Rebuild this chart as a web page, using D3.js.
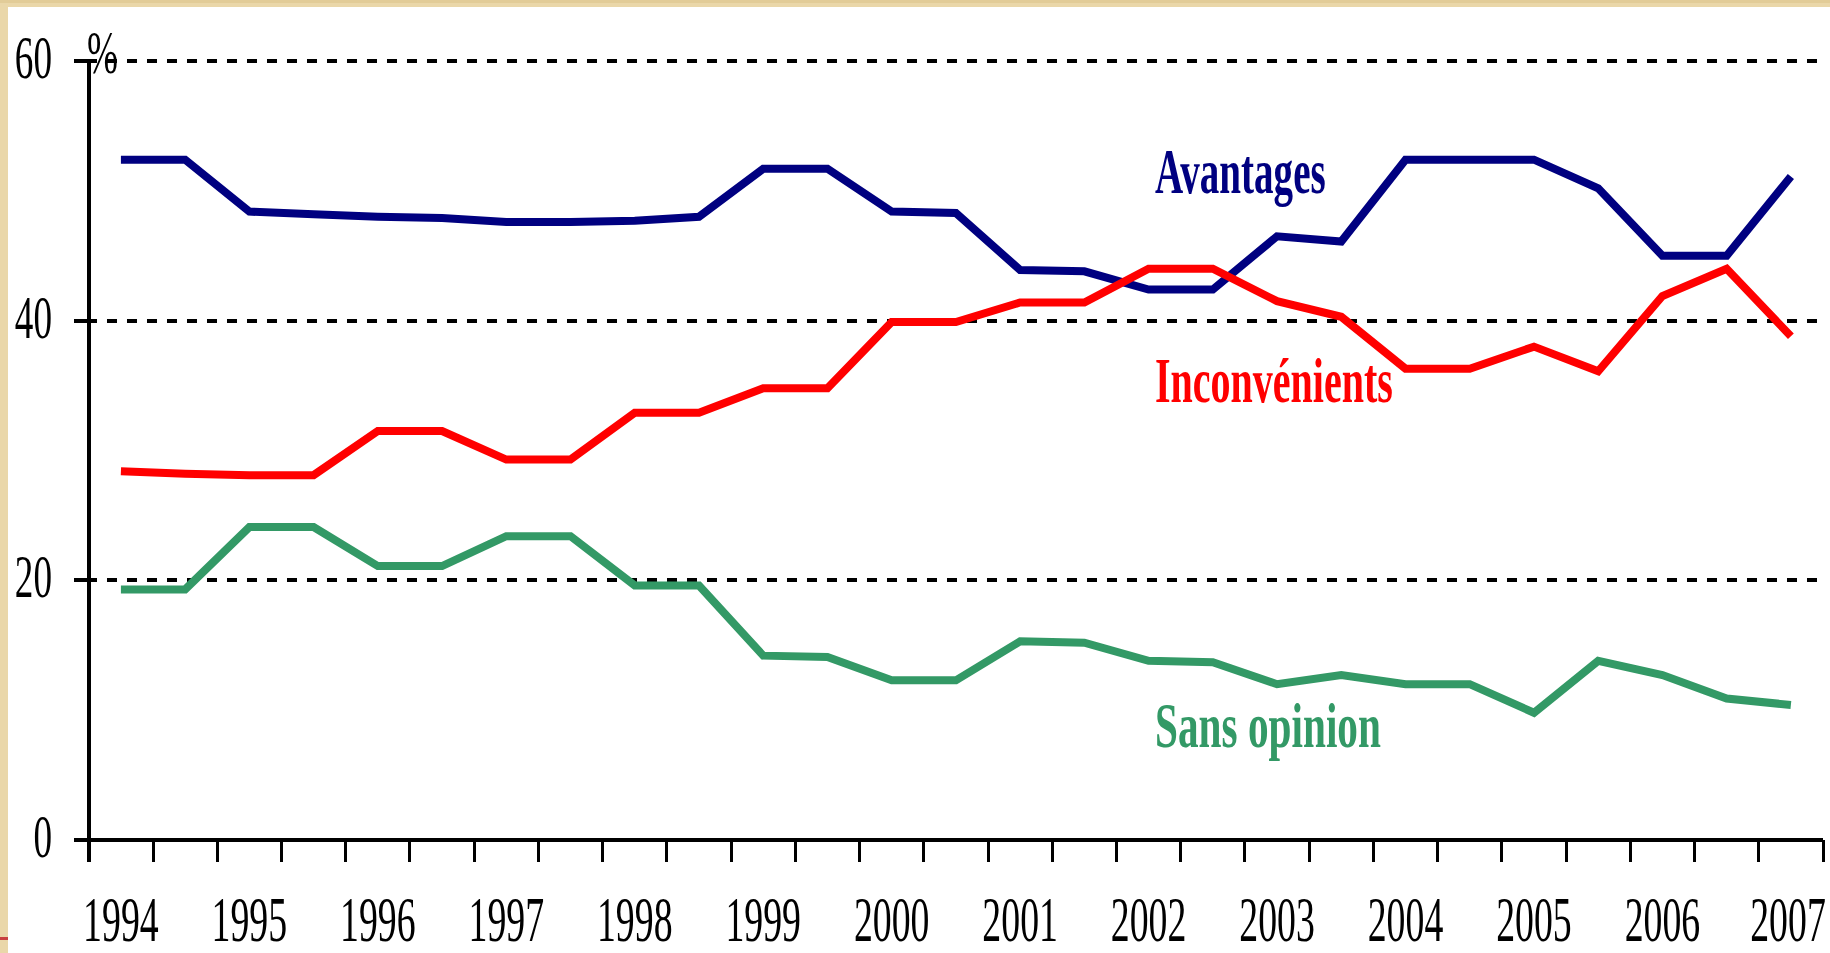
<!DOCTYPE html>
<html><head><meta charset="utf-8">
<script src="https://cdn.jsdelivr.net/npm/d3@7"></script>
<style>html,body{margin:0;padding:0;overflow:hidden;background:#fff}</style>
</head><body>
<svg id="chart" width="1830" height="953"></svg>
<script>
// ---- data ----
const categories = ["1994-1","1994-2","1995-1","1995-2","1996-1","1996-2","1997-1","1997-2","1998-1","1998-2",
  "1999-1","1999-2","2000-1","2000-2","2001-1","2001-2","2002-1","2002-2","2003-1","2003-2",
  "2004-1","2004-2","2005-1","2005-2","2006-1","2006-2","2007-1"];
const yearLabels = ["1994","1995","1996","1997","1998","1999","2000","2001","2002","2003","2004","2005","2006","2007"];
const avantages = [52.4,52.4,48.4,48.2,48.0,47.9,47.6,47.6,47.7,48.0,51.7,51.7,48.4,48.3,43.9,43.8,42.4,42.4,46.5,46.1,52.4,52.4,52.4,50.2,45.0,45.0,51.1];
const inconvenients = [28.4,28.2,28.1,28.1,31.5,31.5,29.3,29.3,32.9,32.9,34.8,34.8,39.9,39.9,41.4,41.4,44.0,44.0,41.5,40.3,36.3,36.3,38.0,36.1,41.9,44.0,38.8];
const sansOpinion = [19.3,19.3,24.1,24.1,21.1,21.1,23.4,23.4,19.6,19.6,14.2,14.1,12.3,12.3,15.3,15.2,13.8,13.7,12.0,12.7,12.0,12.0,9.8,13.8,12.7,10.9,10.4];
const yTicks = [0,20,40,60];
const seriesNames = ["Avantages","Inconvénients","Sans opinion"];

// ---- layout ----
const W = 1830, H = 953;
const svg = d3.select("#chart");
svg.append("rect").attr("width", W).attr("height", H).attr("fill", "#EAD7A9");
svg.append("rect").attr("x", 0).attr("y", 0).attr("width", W).attr("height", 3).attr("fill", "#E2CC98");
svg.append("rect").attr("x", 8).attr("y", 7).attr("width", W - 8).attr("height", H - 7).attr("fill", "#fff");
svg.append("rect").attr("x", 0).attr("y", 937).attr("width", 8).attr("height", 3).attr("fill", "#C84040");

const x = d3.scaleBand().domain(categories).range([88.8, 1823]).paddingInner(0).paddingOuter(0);
const y = d3.scaleLinear().domain([0, 60]).range([840, 61]);
const cx = c => x(c) + x.bandwidth() / 2;

// gridlines
svg.append("g").selectAll("line").data(yTicks.filter(d => d > 0)).join("line")
  .attr("x1", 107).attr("x2", 1823)
  .attr("y1", d => y(d)).attr("y2", d => y(d))
  .attr("stroke", "#000").attr("stroke-width", 4)
  .attr("stroke-dasharray", "10,10").attr("shape-rendering", "crispEdges");

// y ticks
svg.append("g").selectAll("line").data(yTicks).join("line")
  .attr("x1", 74).attr("x2", 97)
  .attr("y1", d => y(d)).attr("y2", d => y(d))
  .attr("stroke", "#000").attr("stroke-width", 4).attr("shape-rendering", "crispEdges");

// axes
svg.append("line").attr("x1", x.range()[0]).attr("x2", x.range()[0])
  .attr("y1", y(60) - 1).attr("y2", 862)
  .attr("stroke", "#000").attr("stroke-width", 4).attr("shape-rendering", "crispEdges");
svg.append("line").attr("x1", 74).attr("x2", x.range()[1])
  .attr("y1", y(0)).attr("y2", y(0))
  .attr("stroke", "#000").attr("stroke-width", 4).attr("shape-rendering", "crispEdges");

// x ticks at category boundaries
const bounds = categories.map(c => x(c)).concat([x.range()[1]]);
svg.append("g").selectAll("line").data(bounds).join("line")
  .attr("x1", d => d).attr("x2", d => d)
  .attr("y1", y(0)).attr("y2", 862)
  .attr("stroke", "#000").attr("stroke-width", 3).attr("shape-rendering", "crispEdges");

// y labels
svg.append("g").selectAll("text").data(yTicks).join("text")
  .attr("transform", d => `translate(52,${y(d) + 17}) scale(0.6,1)`)
  .attr("text-anchor", "end")
  .attr("font-family", "Liberation Serif").attr("font-size", 62).attr("fill", "#000")
  .text(d => d);
svg.append("text").attr("transform", "translate(87,73) scale(0.6,1)")
  .attr("font-family", "Liberation Serif").attr("font-size", 62).attr("fill", "#000").text("%");

// x labels
svg.append("g").selectAll("text").data(yearLabels).join("text")
  .attr("transform", (d, i) => `translate(${Math.min(cx(categories[i * 2]), 1788)},941) scale(0.6,1)`)
  .attr("text-anchor", "middle")
  .attr("font-family", "Liberation Serif").attr("font-size", 63).attr("fill", "#000")
  .text(d => d);

// lines
const line = d3.line().x((d, i) => cx(categories[i])).y(d => y(d));
const series = [
  {name: seriesNames[0], values: avantages, color: "#000080", ly: 193, sx: 0.62},
  {name: seriesNames[1], values: inconvenients, color: "#FF0000", ly: 402, sx: 0.635},
  {name: seriesNames[2], values: sansOpinion, color: "#339966", ly: 747, sx: 0.655}
];
series.forEach(s => {
  svg.append("path").datum(s.values).attr("d", line)
    .attr("fill", "none").attr("stroke", s.color).attr("stroke-width", 8)
    .attr("stroke-linejoin", "miter");
  svg.append("text").attr("transform", `translate(1155,${s.ly}) scale(${s.sx},1)`)
    .attr("font-family", "Liberation Serif").attr("font-weight", "bold")
    .attr("font-size", 63).attr("fill", s.color).text(s.name);
});
</script>
</body></html>
